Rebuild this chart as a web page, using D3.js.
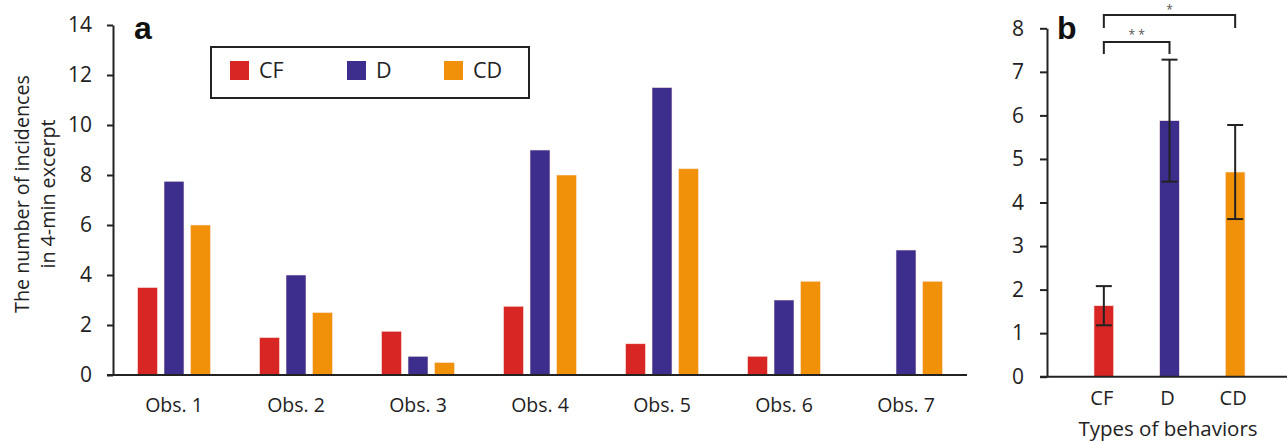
<html>
<head>
<script src="https://d3js.org/d3.v7.min.js"></script>
<style>
  body { margin: 0; background: #fff; }
  svg { display: block; font-family: "Open Sans", sans-serif; }
</style>
</head>
<body>
<svg width="1287" height="442"></svg>
<script>
// panel a data
var obs = ["Obs. 1", "Obs. 2", "Obs. 3", "Obs. 4", "Obs. 5", "Obs. 6", "Obs. 7"];
var series = ["CF", "D", "CD"];
var cfVals = [3.5, 1.5, 1.75, 2.75, 1.25, 0.75, 0];
var dVals  = [7.75, 4, 0.75, 9, 11.5, 3, 5];
var cdVals = [6, 2.5, 0.5, 8, 8.25, 3.75, 3.75];
var yTicksA = [0, 2, 4, 6, 8, 10, 12, 14];

// panel b data
var types = ["CF", "D", "CD"];
var means = [1.63, 5.88, 4.7];
var errs  = [0.45, 1.4, 1.08];
var yTicksB = [0, 1, 2, 3, 4, 5, 6, 7, 8];

var colors = { CF: "#d82624", D: "#3d2d8d", CD: "#f09109" };
var axisCol = "#222";

var svg = d3.select("svg");

// ---------- panel a ----------
var ya = d3.scaleLinear().domain([0, 14]).range([375, 25]);
var xa = d3.scaleBand().domain(obs).range([113, 967]).padding(0);
var xs = d3.scaleBand().domain(series).range([0, xa.bandwidth()])
  .paddingInner(0.245).paddingOuter(0.925);

var table = obs.map(function(o, i) {
  return { obs: o, CF: cfVals[i], D: dVals[i], CD: cdVals[i] };
});

var groups = svg.append("g").selectAll("g").data(table).enter().append("g")
  .attr("transform", function(d) { return "translate(" + xa(d.obs) + ",0)"; });

groups.selectAll("rect")
  .data(function(d) { return series.map(function(s) { return { s: s, v: d[s] }; }); })
  .enter().filter(function(d) { return d.v > 0; }).append("rect")
  .attr("x", function(d) { return xs(d.s); })
  .attr("y", function(d) { return ya(d.v); })
  .attr("width", xs.bandwidth())
  .attr("height", function(d) { return ya(0) - ya(d.v); })
  .attr("fill", function(d) { return colors[d.s]; })
  .attr("stroke", "#fbe9e4").attr("stroke-width", 0.6);

var yAxA = svg.append("g").attr("transform", "translate(113,0)")
  .call(d3.axisLeft(ya).tickValues(yTicksA).tickSize(6).tickSizeOuter(0).tickPadding(15));
yAxA.select(".domain").attr("stroke", axisCol).attr("stroke-width", 2);
yAxA.selectAll(".tick line").attr("stroke", axisCol).attr("stroke-width", 2);
yAxA.selectAll("text").attr("font-size", 21).attr("fill", "#222")
  .attr("font-family", "Open Sans");

// x axis line a
svg.append("line").attr("x1", 107).attr("x2", xa.range()[1])
  .attr("y1", ya(0)).attr("y2", ya(0)).attr("stroke", axisCol).attr("stroke-width", 2);
svg.append("g").selectAll("text").data(obs).enter().append("text")
  .attr("x", function(d) { return xa(d) + xa.bandwidth() / 2; })
  .attr("y", 412).attr("text-anchor", "middle").attr("font-size", 19.5)
  .attr("fill", "#222").text(function(d) { return d; });

// y title
var yt = svg.append("text").attr("transform", "translate(0,194) rotate(-90)")
  .attr("text-anchor", "middle").attr("font-size", 19.7).attr("fill", "#222");
yt.append("tspan").attr("x", 0).attr("y", 29).text("The number of incidences");
yt.append("tspan").attr("x", 0).attr("y", 55).text("in 4-min excerpt");

// panel label a
svg.append("text").attr("x", 134).attr("y", 39).attr("font-family", "Liberation Sans")
  .attr("font-weight", "bold").attr("font-size", 32).attr("fill", "#111").text("a");

// legend
var lg = svg.append("g");
lg.append("rect").attr("x", 211).attr("y", 47).attr("width", 318).attr("height", 51)
  .attr("fill", "none").attr("stroke", axisCol).attr("stroke-width", 2);
var legX = [230, 347, 444];
series.forEach(function(s, i) {
  lg.append("rect").attr("x", legX[i]).attr("y", 61).attr("width", 19).attr("height", 19)
    .attr("fill", colors[s]);
  lg.append("text").attr("x", legX[i] + 29).attr("y", 78).attr("font-size", 21.5)
    .attr("fill", "#222").text(s);
});

// ---------- panel b ----------
var yb = d3.scaleLinear().domain([0, 8]).range([376.7, 28.3]);
var xb = d3.scaleBand().domain(types).range([1071, 1268]).paddingInner(0.7).paddingOuter(0.35);
var bdata = types.map(function(t, i) { return { t: t, m: means[i], e: errs[i] }; });

svg.append("g").selectAll("rect").data(bdata).enter().append("rect")
  .attr("x", function(d) { return xb(d.t); })
  .attr("y", function(d) { return yb(d.m); })
  .attr("width", xb.bandwidth())
  .attr("height", function(d) { return yb(0) - yb(d.m); })
  .attr("fill", function(d) { return colors[d.t]; })
  .attr("stroke", "#fbe9e4").attr("stroke-width", 0.6);

var eb = svg.append("g").selectAll("g").data(bdata).enter().append("g")
  .attr("stroke", axisCol).attr("stroke-width", 2);
eb.append("line")
  .attr("x1", function(d) { return xb(d.t) + xb.bandwidth() / 2; })
  .attr("x2", function(d) { return xb(d.t) + xb.bandwidth() / 2; })
  .attr("y1", function(d) { return yb(d.m + d.e); })
  .attr("y2", function(d) { return yb(d.m - d.e); });
[1, -1].forEach(function(sg) {
  eb.append("line")
    .attr("x1", function(d) { return xb(d.t) + xb.bandwidth() / 2 - 8; })
    .attr("x2", function(d) { return xb(d.t) + xb.bandwidth() / 2 + 8; })
    .attr("y1", function(d) { return yb(d.m + sg * d.e); })
    .attr("y2", function(d) { return yb(d.m + sg * d.e); });
});

var yAxB = svg.append("g").attr("transform", "translate(1047,0)")
  .call(d3.axisLeft(yb).tickValues(yTicksB).tickSize(7).tickSizeOuter(0).tickPadding(16));
yAxB.select(".domain").attr("stroke", axisCol).attr("stroke-width", 2);
yAxB.selectAll(".tick line").attr("stroke", axisCol).attr("stroke-width", 2);
yAxB.selectAll("text").attr("font-size", 21).attr("fill", "#222")
  .attr("font-family", "Open Sans");

svg.append("line").attr("x1", 1040).attr("x2", 1287)
  .attr("y1", yb(0)).attr("y2", yb(0)).attr("stroke", axisCol).attr("stroke-width", 2);
svg.append("g").selectAll("text").data(types).enter().append("text")
  .attr("x", function(d) { return xb(d) + xb.bandwidth() / 2 - 2; })
  .attr("y", 405).attr("text-anchor", "middle").attr("font-size", 20)
  .attr("fill", "#222").text(function(d) { return d; });
svg.append("text").attr("x", 1168).attr("y", 436).attr("text-anchor", "middle")
  .attr("font-size", 20.5).attr("fill", "#222").text("Types of behaviors");

svg.append("text").attr("x", 1057).attr("y", 39).attr("font-family", "Liberation Sans")
  .attr("font-weight", "bold").attr("font-size", 32).attr("fill", "#111").text("b");

// significance brackets
var brackets = [
  { a: "CF", b: "D", top: 42, low: 54, label: "* *", ly: 39 },
  { a: "CF", b: "CD", top: 15, low: 28, label: "*", ly: 14 }
];
brackets.forEach(function(br) {
  var x1 = xb(br.a) + xb.bandwidth() / 2, x2 = xb(br.b) + xb.bandwidth() / 2;
  svg.append("path")
    .attr("d", "M" + x1 + "," + br.low + "V" + br.top + "H" + x2 + "V" + br.low)
    .attr("fill", "none").attr("stroke", axisCol).attr("stroke-width", 2);
  svg.append("text").attr("x", (x1 + x2) / 2).attr("y", br.ly)
    .attr("text-anchor", "middle").attr("font-size", 12).attr("fill", "#555")
    .text(br.label);
});
</script>
</body>
</html>
